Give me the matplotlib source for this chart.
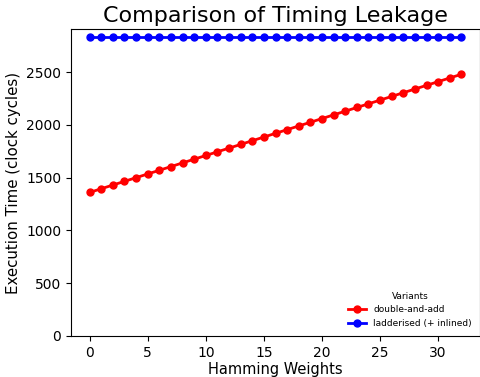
import matplotlib
matplotlib.use('Agg')
import matplotlib.pyplot as plt

# ==============================================================
# DADOS
# ==============================================================

hamming = list(range(33))

double_and_add = [
    1360, 1395, 1430, 1465, 1500, 1535, 1570, 1605, 1640, 1675, 1710,
    1745, 1780, 1815, 1850, 1885, 1920, 1955, 1990, 2025, 2060, 2095,
    2130, 2165, 2200, 2235, 2270, 2305, 2340, 2375, 2410, 2445, 2480
]

ladderised = [2835] * 33

# ==============================================================
# GRÁFICO
# ==============================================================

fig = plt.figure(figsize=(4.8, 3.77), dpi=100)
ax = fig.add_axes([0.148, 0.109, 0.852, 0.814])

ax.plot(hamming, double_and_add, 'o-', color='red', label='double-and-add', markersize=5, linewidth=2)
ax.plot(hamming, ladderised, 'o-', color='blue', label='ladderised (+ inlined)', markersize=5, linewidth=2)

ax.set_ylim(bottom=0)
ax.set_title('Comparison of Timing Leakage', fontsize=16, pad=5)
ax.set_xlabel('Hamming Weights', fontsize=10.5, labelpad=2)
ax.set_ylabel('Execution Time (clock cycles)', fontsize=10.8)
ax.tick_params(labelsize=10)

ax.legend(title='Variants', fontsize=6.5, title_fontsize=6.5, frameon=False, loc='lower right')

fig.savefig('out.png', dpi=100)
